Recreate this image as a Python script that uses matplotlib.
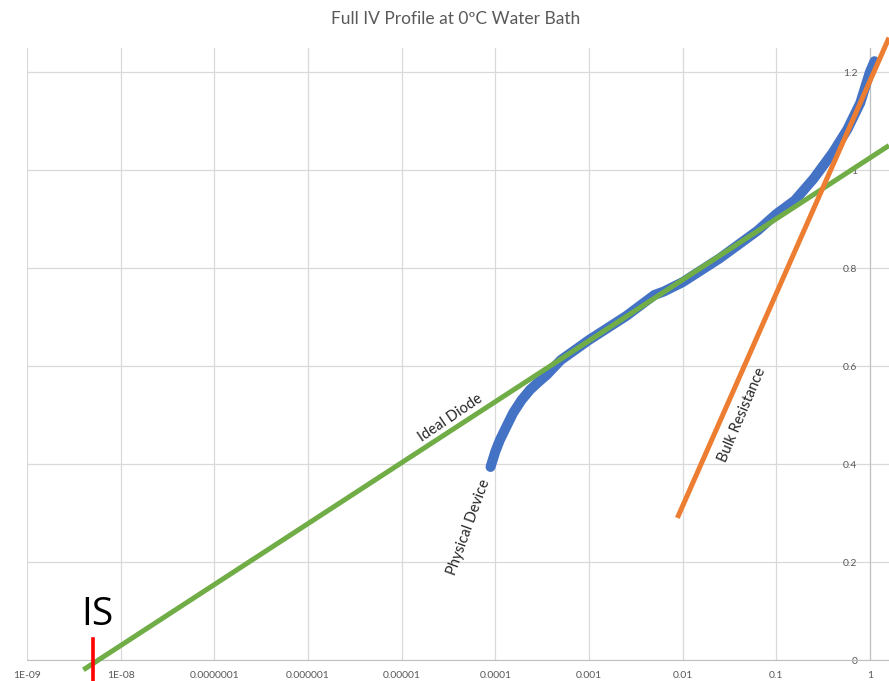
import matplotlib
matplotlib.use('Agg')
from matplotlib import pyplot as plt
from matplotlib.ticker import FixedLocator, NullLocator

plt.rcParams['font.family'] = ['Lato', 'DejaVu Sans']

# measured forward curve (current in A, voltage in V)
device_i = [8.9e-5, 1.0e-4, 1.12e-4, 1.32e-4, 1.55e-4, 1.9e-4, 2.34e-4, 2.88e-4,
            3.55e-4, 5.0e-4, 1.0e-3, 2.5e-3, 5.0e-3, 6.3e-3, 1.0e-2, 2.5e-2,
            5.0e-2, 6.3e-2, 0.1, 0.158, 0.25, 0.4, 0.575, 0.79, 1.0, 1.12]
device_v = [0.394, 0.425, 0.449, 0.477, 0.504, 0.530, 0.551, 0.567,
            0.582, 0.612, 0.653, 0.702, 0.745, 0.752, 0.771, 0.820,
            0.862, 0.876, 0.910, 0.938, 0.982, 1.035, 1.083, 1.137, 1.200, 1.222]

# fitted asymptotes
ideal_i = [4.0e-9, 1.6]
ideal_v = [-0.02, 1.05]
bulk_i = [0.0088, 1.6]
bulk_v = [0.29, 1.27]

i_sat = 5.07e-9

x_ticks = [1e-9, 1e-8, 1e-7, 1e-6, 1e-5, 1e-4, 1e-3, 1e-2, 1e-1, 1]
x_labels = ['1E-09', '1E-08', '0.0000001', '0.000001', '0.00001',
            '0.0001', '0.001', '0.01', '0.1', '1']
y_ticks = [0, 0.2, 0.4, 0.6, 0.8, 1.0, 1.2]
y_labels = ['0', '0.2', '0.4', '0.6', '0.8', '1', '1.2']

grey = '#595959'

fig = plt.figure(figsize=(8.89, 6.81), dpi=100)
ax = fig.add_axes([27/889, 21/681, 862/889, 612.5/681])
ax.set_xscale('log')
ax.set_xlim(1e-9, 1.6)
ax.set_ylim(0, 1.25)

ax.plot(device_i, device_v, color='#4472C4', lw=7.2, solid_capstyle='round', zorder=3)
ax.plot(ideal_i, ideal_v, color='#70AD47', lw=3.6, solid_capstyle='butt', zorder=4, clip_on=False)
ax.plot(bulk_i, bulk_v, color='#ED7D31', lw=3.6, solid_capstyle='butt', zorder=5, clip_on=False)

# saturation current marker
ax.plot([i_sat, i_sat], [0.043, -0.045], color='#FF0000', lw=2.6, zorder=6, clip_on=False)
ax.text(5.6e-9, 0.092, 'IS', fontsize=28, ha='center', va='center', color='black',
        family=['Open Sans', 'DejaVu Sans'])

ax.text(3.3e-5, 0.494, 'Ideal Diode', fontsize=10.5, rotation=34, ha='center', va='center', color='#262626')
ax.text(5.2e-5, 0.271, 'Physical Device', fontsize=10.5, rotation=70, ha='center', va='center', color='#262626')
ax.text(0.0437, 0.50, 'Bulk Resistance', fontsize=10.5, rotation=67, ha='center', va='center', color='#262626')

ax.xaxis.set_major_locator(FixedLocator(x_ticks))
ax.xaxis.set_minor_locator(NullLocator())
ax.set_xticklabels(x_labels)
ax.set_yticks(y_ticks)
ax.set_yticklabels(y_labels)
ax.tick_params(axis='x', length=0, pad=8, labelsize=7.5, labelcolor=grey)
ax.tick_params(axis='y', length=0, pad=9, labelsize=7.5, labelcolor=grey)

ax.grid(True, color='#d9d9d9', lw=0.9)
ax.set_axisbelow(True)
for s in ['top', 'right']:
    ax.spines[s].set_visible(False)
ax.spines['left'].set_position(('data', 1.0))
ax.spines['left'].set_color('#bfbfbf')
ax.spines['bottom'].set_color('#bfbfbf')
ax.spines['left'].set_zorder(1)
ax.spines['bottom'].set_zorder(1)

fig.text(456/889, 1 - 19/681, 'Full IV Profile at 0ºC Water Bath', fontsize=12.5,
         color=grey, ha='center', va='center')

fig.savefig('out.png', dpi=100)
